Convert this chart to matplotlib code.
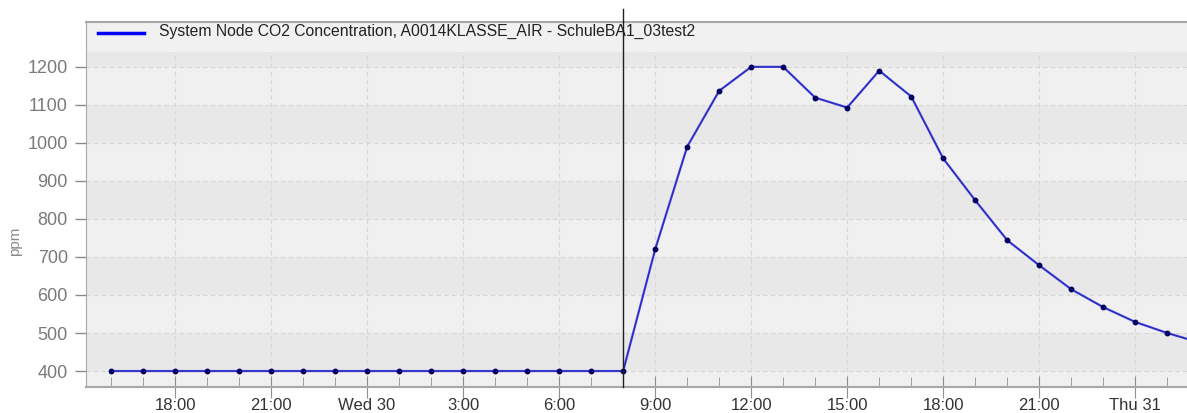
import datetime as dt
import matplotlib.pyplot as plt
import matplotlib.dates as mdates
from matplotlib.ticker import FuncFormatter

# hourly readings, Tue 29 16:00 .. Thu 31 02:00
times = [dt.datetime(2019, 1, 29, 16) + dt.timedelta(hours=h) for h in range(35)]
co2 = [400, 400, 400, 400, 400, 400, 400, 400, 400, 400, 400, 400, 400, 400, 400, 400, 400,
       720, 990, 1137, 1200, 1200, 1119, 1093, 1190, 1122, 959, 849, 744, 678, 615, 568, 529, 500, 475]
series_label = "System Node CO2 Concentration, A0014KLASSE_AIR - SchuleBA1_03test2"
y_ticks = [400, 500, 600, 700, 800, 900, 1000, 1100, 1200]
marker_time = dt.datetime(2019, 1, 30, 8)

fig = plt.figure(figsize=(11.87, 4.13), dpi=100)
ax = fig.add_axes([86/1187, 26/413, 1 - 86/1187, (387-22)/413])

x0 = dt.datetime(2019, 1, 29, 15, 13)
x1 = dt.datetime(2019, 1, 31, 1, 37)
ax.set_xlim(x0, x1)
ymin, ytop_plot, ymax = 358, 1239, 1318
ax.set_ylim(ymin, ymax)

# background bands
ax.set_facecolor('#f0f0f0')
for lo in [400, 600, 800, 1000, 1200]:
    hi = min(lo + 100, ytop_plot)
    ax.axhspan(lo, hi, color='#e8e8e8', lw=0, zorder=0)
ax.axhspan(ytop_plot, ymax, color='#f1f1f1', lw=0, zorder=0)

# grid
for y in y_ticks:
    ax.plot([x0, x1], [y, y], color='#d6d6d6', lw=0.8, ls=(0, (4, 3)), zorder=1)
major = [dt.datetime(2019, 1, 29, 18) + dt.timedelta(hours=3*k) for k in range(11)]
for t in major:
    ax.plot([t, t], [ymin, ytop_plot], color='#d8d8d8', lw=0.8, ls=(0, (4, 3)), zorder=1)

# data
ax.plot(times, co2, color='#4646f0', lw=1.6, zorder=3)
ax.plot(times, co2, color='#20208c', lw=0.5, zorder=4)
ax.plot(times, co2, ls='none', marker='o', ms=3.2, color='#000060', zorder=5)

ax.axvline(marker_time, ymin=0, ymax=1.035, color='#202020', lw=1, clip_on=False, zorder=6)

# legend row
ax.plot([dt.datetime(2019, 1, 29, 15, 35), dt.datetime(2019, 1, 29, 17, 1)], [1290, 1290],
        color='#0000ff', lw=2.5, zorder=5)
ax.text(dt.datetime(2019, 1, 29, 17, 29), 1292, series_label, fontsize=11.3, va='center',
        color='#222222', family='Liberation Sans')

# axes styling
ax.spines['right'].set_visible(False)
ax.spines['top'].set_color('#a8a8a8')
ax.spines['top'].set_linewidth(1.5)
ax.spines['left'].set_color('#a8a8a8')
ax.spines['bottom'].set_color('#a8a8a8')
ax.spines['bottom'].set_linewidth(1.5)

ax.set_yticks(y_ticks)
ax.tick_params(axis='y', colors='#8a8a8a', labelsize=13, length=8, width=1, pad=5)
ax.tick_params(axis='y', labelcolor='#7a7a7a')
ax.xaxis.set_major_locator(mdates.HourLocator(byhour=range(0, 24, 3)))
ax.xaxis.set_minor_locator(mdates.HourLocator())

def fmt(v, pos):
    d = mdates.num2date(v)
    if d.hour == 0:
        return d.strftime('%a ') + str(d.day)
    return '%d:00' % d.hour

ax.xaxis.set_major_formatter(FuncFormatter(fmt))
ax.tick_params(axis='x', which='major', direction='inout', length=16, color='#909090',
               labelsize=12, labelcolor='#333333', pad=0)
ax.tick_params(axis='x', which='minor', direction='in', length=7, color='#909090')
for lab in ax.get_xticklabels() + ax.get_yticklabels():
    lab.set_family('Liberation Sans')
ax.set_ylabel('ppm', color='#8a8a8a', fontsize=11, family='Liberation Sans')
ax.yaxis.set_label_coords(-0.058, 0.4)

fig.savefig('out.png', dpi=100)
